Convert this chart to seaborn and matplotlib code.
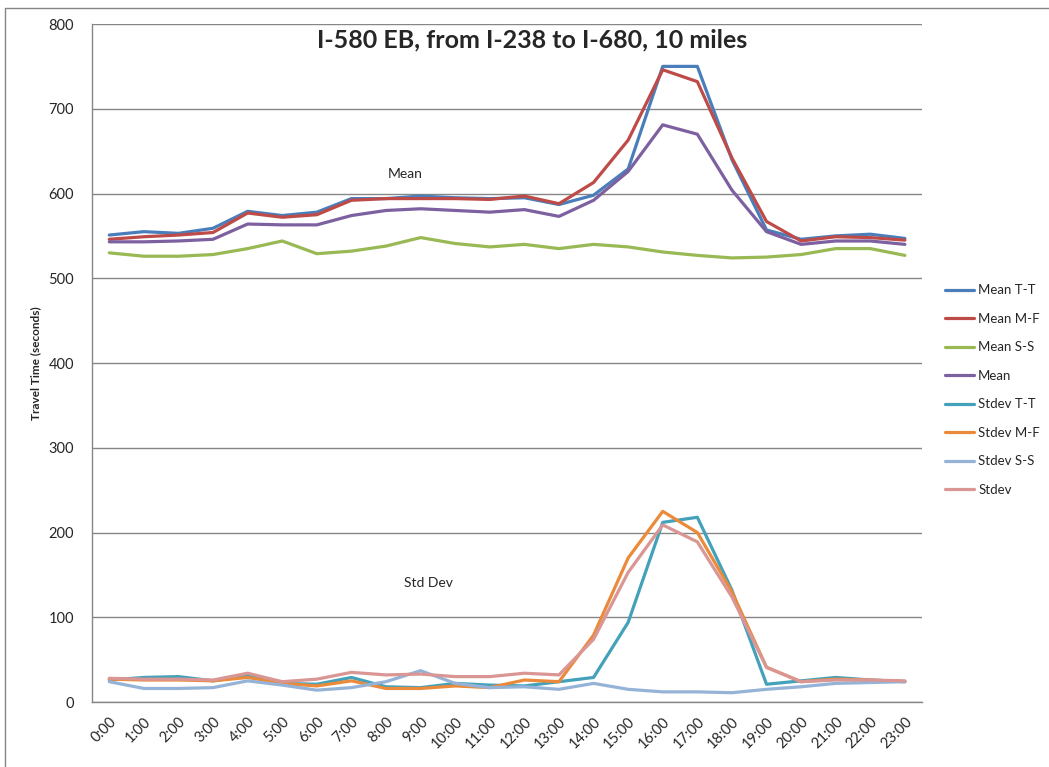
import matplotlib
matplotlib.use("Agg")
import matplotlib.pyplot as plt
from matplotlib.lines import Line2D
import seaborn as sns
import pandas as pd

sns.set_style("white")
plt.rcParams["font.family"] = ["Lato", "DejaVu Sans"]

# --- DATA ---
hours = [f"{h}:00" for h in range(24)]

mean_tt = [551, 555, 553, 559, 579, 574, 578, 594, 594, 597, 595, 594,
           595, 587, 598, 629, 750, 750, 640, 557, 546, 550, 552, 547]
mean_mf = [546, 549, 551, 554, 577, 572, 575, 592, 594, 594, 594, 593,
           597, 588, 613, 663, 746, 732, 642, 567, 544, 549, 548, 545]
mean_ss = [530, 526, 526, 528, 535, 544, 529, 532, 538, 548, 541, 537,
           540, 535, 540, 537, 531, 527, 524, 525, 528, 535, 535, 527]
mean_all = [543, 543, 544, 546, 564, 563, 563, 574, 580, 582, 580, 578,
            581, 573, 592, 626, 681, 670, 604, 555, 540, 544, 544, 540]
std_tt = [26, 29, 30, 25, 31, 22, 21, 29, 18, 17, 22, 20,
          19, 24, 29, 94, 212, 218, 132, 21, 25, 29, 26, 24]
std_mf = [27, 26, 26, 25, 29, 22, 19, 25, 16, 16, 19, 17,
          26, 24, 79, 170, 225, 200, 130, 41, 24, 27, 26, 24]
std_ss = [24, 16, 16, 17, 25, 20, 14, 17, 24, 37, 22, 17,
          18, 15, 22, 15, 12, 12, 11, 15, 18, 22, 23, 24]
std_all = [28, 27, 27, 26, 34, 24, 27, 35, 32, 33, 30, 30,
           34, 32, 74, 153, 209, 189, 124, 41, 24, 26, 26, 25]

series_names = ["Mean T-T", "Mean M-F", "Mean S-S", "Mean",
                "Stdev T-T", "Stdev M-F", "Stdev S-S", "Stdev"]
series_values = [mean_tt, mean_mf, mean_ss, mean_all,
                 std_tt, std_mf, std_ss, std_all]
colors = ["#4A7EBB", "#BE4B48", "#98B954", "#7D60A0",
          "#43A1BA", "#EB8A3A", "#95B3D7", "#D99694"]

rows = []
for name, vals in zip(series_names, series_values):
    for i, v in enumerate(vals):
        rows.append({"Hour": i, "Series": name, "Travel Time (seconds)": v})
df = pd.DataFrame(rows)

# --- Plotting ---
fig = plt.figure(figsize=(10.49, 7.67), dpi=100)
ax = fig.add_axes([0.0877, 0.0847, 0.7914, 0.884])

sns.lineplot(data=df, x="Hour", y="Travel Time (seconds)", hue="Series",
             hue_order=series_names, palette=colors, linewidth=2.3,
             sort=False, ax=ax, legend=True)

grey = "#868686"
ax.set_ylim(0, 800)
ax.set_xlim(-0.5, 23.5)
ax.set_yticks(range(0, 801, 100))
ax.set_xticks(range(24))
ax.set_xticklabels(hours, rotation=45, ha="right", rotation_mode="anchor")
ax.set_xticks([i - 0.5 for i in range(25)], minor=True)
ax.tick_params(axis="x", which="major", length=0, labelsize=10.5, pad=9)
ax.tick_params(axis="x", which="minor", length=5, color=grey, width=1)
ax.tick_params(axis="y", length=5, color=grey, width=1, labelsize=10.5, pad=8)
ax.yaxis.grid(True, color=grey, linewidth=1)
ax.set_axisbelow(True)
for s in ["top", "right"]:
    ax.spines[s].set_visible(False)
for s in ["left", "bottom"]:
    ax.spines[s].set_color(grey)
    ax.spines[s].set_linewidth(1)

ax.set_xlabel("")
ax.set_ylabel("Travel Time (seconds)", fontsize=8.5, fontweight="bold", labelpad=5)

ax.text(8.55, 623, "Mean", fontsize=10, ha="center", va="center")
ax.text(9.22, 140, "Std Dev", fontsize=10, ha="center", va="center")

fig.text(0.507, 0.948, "I-580 EB, from I-238 to I-680, 10 miles",
         fontsize=18, fontweight="bold", ha="center", va="center")

handles, labels = ax.get_legend_handles_labels()
ax.legend_.remove()
fig.legend(handles, labels, loc="center left", bbox_to_anchor=(0.901, 0.4915),
           frameon=False, fontsize=9.5, handlelength=2.2, labelspacing=1.25,
           handletextpad=0.3, borderaxespad=0, borderpad=0)

# chart area border (left and top edges)
fig.add_artist(Line2D([5 / 1049, 5 / 1049], [0, 1 - 8 / 767], color=grey, lw=1))
fig.add_artist(Line2D([5 / 1049, 1], [1 - 8 / 767, 1 - 8 / 767], color=grey, lw=1))

fig.savefig("out.png", dpi=100)
